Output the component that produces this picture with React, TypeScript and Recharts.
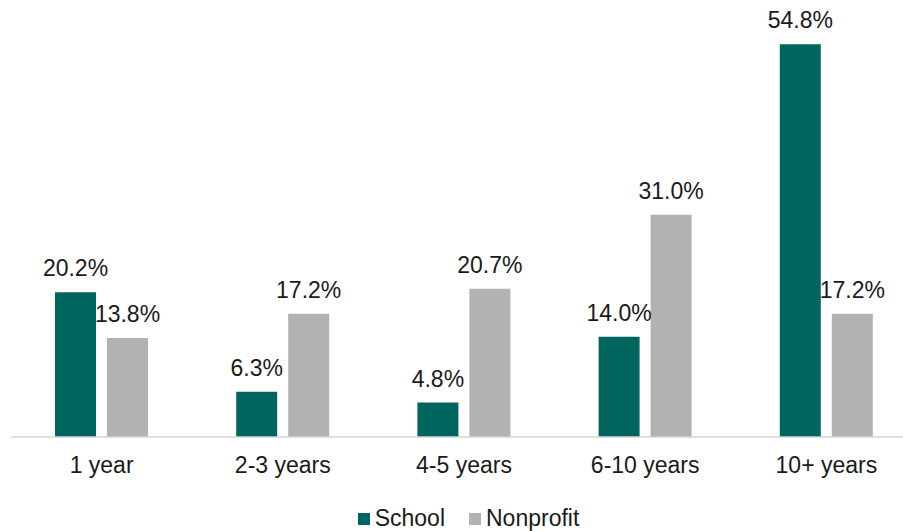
import { BarChart, Bar, XAxis, YAxis, LabelList, Legend } from "recharts";

const CATEGORIES = ["1 year", "2-3 years", "4-5 years", "6-10 years", "10+ years"];
const SCHOOL = [20.2, 6.3, 4.8, 14.0, 54.8];
const NONPROFIT = [13.8, 17.2, 20.7, 31.0, 17.2];

const SCHOOL_COLOR = "#00645F";
const NONPROFIT_COLOR = "#B2B2B2";
const FONT = "'Liberation Sans', Arial, sans-serif";
const FONT_SIZE = 23;

const data = CATEGORIES.map((name, i) => ({
  name,
  school: SCHOOL[i],
  nonprofit: NONPROFIT[i],
}));

const fmt = (v: number) => `${v.toFixed(1)}%`;

function LegendContent() {
  const items = [
    { label: "School", color: SCHOOL_COLOR },
    { label: "Nonprofit", color: NONPROFIT_COLOR },
  ];
  return (
    <div
      style={{
        height: 44,
        paddingTop: 19,
        paddingLeft: 9,
        boxSizing: "border-box",
        display: "flex",
        justifyContent: "center",
        alignItems: "flex-start",
        fontFamily: FONT,
        fontSize: FONT_SIZE,
        lineHeight: "25px",
        color: "#1a1a1a",
      }}
    >
      {items.map((it, i) => (
        <div key={it.label} style={{ display: "flex", alignItems: "center", marginLeft: i ? 24 : 0 }}>
          <span style={{ width: 12, height: 12, background: it.color, display: "inline-block", marginRight: 5 }} />
          <span>{it.label}</span>
        </div>
      ))}
    </div>
  );
}

export default function App() {
  return (
    <div style={{ position: "absolute", left: 0, top: 0, width: 903, height: 531, overflow: "hidden", background: "#fff" }}>
      <BarChart
        width={917}
        height={531}
        data={data}
        margin={{ top: 7, right: 0, bottom: 0, left: 11 }}
        barSize={41}
        barGap={11}
      >
        <XAxis
          dataKey="name"
          height={50}
          axisLine={{ stroke: "#d4d4d4", strokeWidth: 1.5 }}
          tickLine={false}
          tickSize={0}
          tickMargin={20}
          tick={{ fill: "#1a1a1a", fontSize: FONT_SIZE, fontFamily: FONT }}
          interval={0}
        />
        <YAxis hide domain={[0, 60]} />
        <Legend verticalAlign="bottom" content={<LegendContent />} />
        <Bar dataKey="school" fill={SCHOOL_COLOR} isAnimationActive={false}>
          <LabelList
            dataKey="school"
            position="top"
            offset={16}
            formatter={fmt}
            style={{ fill: "#1a1a1a", fontSize: FONT_SIZE, fontFamily: FONT }}
          />
        </Bar>
        <Bar dataKey="nonprofit" fill={NONPROFIT_COLOR} isAnimationActive={false}>
          <LabelList
            dataKey="nonprofit"
            position="top"
            offset={16}
            formatter={fmt}
            style={{ fill: "#1a1a1a", fontSize: FONT_SIZE, fontFamily: FONT }}
          />
        </Bar>
      </BarChart>
    </div>
  );
}
